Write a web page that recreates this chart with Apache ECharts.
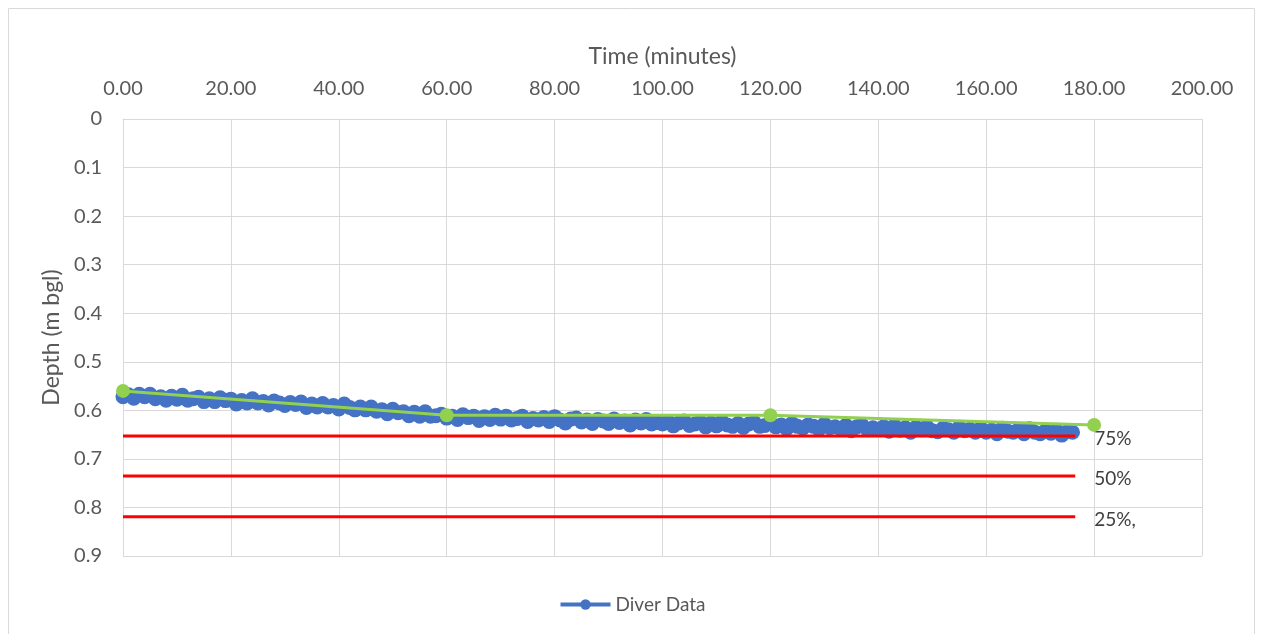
<!DOCTYPE html>
<html>
<head>
<meta charset="utf-8">
<script src="https://cdn.jsdelivr.net/npm/echarts@6/dist/echarts.min.js"></script>
<style>html,body{margin:0;padding:0;background:#fff}#c{width:1264px;height:634px}</style>
</head>
<body>
<div id="c"></div>
<script>
// Diver data: time (minutes) and depth (m bgl)
const diverTime = [
0,1,2,3,4,5,6,7,8,9,10,11,12,13,14,15,16,17,18,19,
20,21,22,23,24,25,26,27,28,29,30,31,32,33,34,35,36,37,38,39,
40,41,42,43,44,45,46,47,48,49,50,51,52,53,54,55,56,57,58,59,
60,61,62,63,64,65,66,67,68,69,70,71,72,73,74,75,76,77,78,79,
80,81,82,83,84,85,86,87,88,89,90,91,92,93,94,95,96,97,98,99,
100,101,102,103,104,105,106,107,108,109,110,111,112,113,114,115,116,117,118,119,
120,121,122,123,124,125,126,127,128,129,130,131,132,133,134,135,136,137,138,139,140,141,142,143,
144,145,146,147,148,149,150,151,152,153,154,155,156,157,158,159,160,161,162,163,164,165,166,167,168,169,170,171,172,173,174,175,176
];
const diverDepth = [
.572,.568,.575,.567,.572,.567,.576,.572,.579,.571,.577,.569,.579,.576,.573,.582,.576,.582,.574,.580,
.577,.587,.580,.585,.576,.585,.582,.589,.581,.585,.590,.584,.588,.583,.594,.587,.593,.586,.593,.590,
.597,.587,.594,.599,.593,.599,.593,.602,.599,.607,.598,.605,.603,.611,.604,.612,.603,.612,.611,.608,
.616,.612,.619,.609,.615,.612,.621,.613,.619,.610,.618,.612,.620,.617,.612,.623,.617,.620,.615,.623,
.613,.620,.626,.618,.616,.624,.620,.627,.619,.622,.627,.618,.625,.622,.630,.620,.626,.619,.628,.625,
.628,.623,.632,.626,.622,.631,.628,.624,.634,.626,.632,.623,.630,.633,.627,.635,.628,.625,.633,.631,
.627,.634,.630,.638,.627,.633,.637,.630,.633,.639,.628,.636,.634,.638,.631,.642,.634,.631,.640,.636,.639,.634,.643,.632,
.641,.636,.645,.635,.640,.634,.642,.644,.637,.640,.645,.635,.642,.639,.645,.637,.645,.641,.648,.637,.643,.645,.640,.648,.638,.645,.648,.642,.647,.641,.651,.644,.645
];
// Green reference readings
const refTime = [0, 60, 120, 180];
const refDepth = [0.56, 0.61, 0.61, 0.63];
// Red threshold lines
const thresholdNames = ['75%', '50%', '25%,'];
const thresholdDepth = [0.653, 0.735, 0.819];
const thresholdRange = [0, 176.5];
// Axis ticks
const xTicks = [0, 20, 40, 60, 80, 100, 120, 140, 160, 180, 200];
const yTicks = [0, 0.1, 0.2, 0.3, 0.4, 0.5, 0.6, 0.7, 0.8, 0.9];

const FONT = 'Lato';
const chart = echarts.init(document.getElementById('c'));

const series = [];
series.push({
  name: 'Diver Data', type: 'line',
  data: diverTime.map((t, i) => [t, diverDepth[i]]),
  symbol: 'circle', symbolSize: 15, showSymbol: true, showAllSymbol: true,
  lineStyle: { color: '#4472C4', width: 10 },
  itemStyle: { color: '#4472C4', borderWidth: 0 },
  z: 2, animation: false
});
thresholdDepth.forEach((d, i) => {
  series.push({
    name: thresholdNames[i], type: 'line',
    data: thresholdRange.map(t => [t, d]),
    symbol: 'none',
    lineStyle: { color: '#FF0000', width: 3 },
    endLabel: {
      show: true, formatter: thresholdNames[i],
      color: '#404040', fontFamily: FONT, fontSize: 19,
      distance: 19, offset: [0, 3]
    },
    z: 3, animation: false
  });
});
series.push({
  name: 'Ref', type: 'line',
  data: refTime.map((t, i) => [t, refDepth[i]]),
  symbol: 'circle', symbolSize: 14,
  lineStyle: { color: '#92D050', width: 3 },
  itemStyle: { color: '#92D050' },
  z: 4, animation: false
});

chart.setOption({
  animation: false,
  textStyle: { fontFamily: FONT },
  graphic: [{
    type: 'rect', shape: { x: 8.5, y: 8.5, width: 1246, height: 640 },
    style: { fill: 'none', stroke: '#D9D9D9', lineWidth: 1 }, silent: true
  }],
  grid: { left: 123, top: 119, right: 62, bottom: 78, containLabel: false },
  legend: {
    data: ['Diver Data'], bottom: 15, left: 'center',
    itemWidth: 50, itemHeight: 13, itemGap: 6,
    lineStyle: { width: 4 },
    textStyle: { color: '#595959', fontSize: 19, fontFamily: FONT }
  },
  xAxis: {
    type: 'value', position: 'top', min: xTicks[0], max: xTicks[xTicks.length - 1], interval: 20,
    name: 'Time (minutes)', nameLocation: 'middle', nameGap: 51,
    nameTextStyle: { color: '#595959', fontSize: 23, fontFamily: FONT },
    axisLine: { show: true, lineStyle: { color: '#D9D9D9', width: 1 } },
    axisTick: { show: false },
    axisLabel: { color: '#595959', fontSize: 20, fontFamily: FONT, margin: 20, formatter: v => v.toFixed(2) },
    splitLine: { show: true, lineStyle: { color: '#D9D9D9', width: 1 } }
  },
  yAxis: {
    type: 'value', inverse: true, min: yTicks[0], max: yTicks[yTicks.length - 1], interval: 0.1,
    name: 'Depth (m bgl)', nameLocation: 'middle', nameGap: 57, nameRotate: 90,
    nameTextStyle: { color: '#595959', fontSize: 23, fontFamily: FONT },
    axisLine: { show: true, lineStyle: { color: '#D9D9D9', width: 1 } },
    axisTick: { show: false },
    axisLabel: { color: '#595959', fontSize: 20, fontFamily: FONT, margin: 21,
      formatter: v => { const r = Math.round(v * 10) / 10; return r === 0 ? '0' : String(r); } },
    splitLine: { show: true, lineStyle: { color: '#D9D9D9', width: 1 } }
  },
  series: series
});
</script>
</body>
</html>
